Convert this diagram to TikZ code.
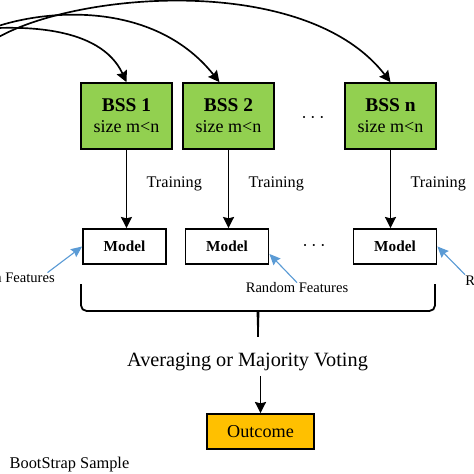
\documentclass[tikz,border=0pt]{standalone}
\usepackage{fontspec}
\setmainfont{Liberation Serif}
\usetikzlibrary{arrows.meta}
\definecolor{bssgreen}{RGB}{146,208,80}
\definecolor{outgold}{RGB}{255,192,0}
\definecolor{featblue}{RGB}{91,155,213}
\tikzstyle{arrow} = [-{Stealth[length=8pt,width=8pt,inset=1pt]},line width=1.2pt]
\tikzstyle{featarrow} = [-{Stealth[length=8pt,width=7pt,inset=1pt]},line width=0.8pt,draw=featblue,fill=featblue]
\tikzstyle{bss} = [draw,line width=1.3pt,fill=bssgreen,minimum width=2.3cm,minimum height=1.67cm,align=center,inner sep=0pt,font=\fontsize{13}{15}\selectfont]
\tikzstyle{model} = [draw,line width=1.3pt,fill=white,minimum width=2.1cm,minimum height=0.886cm,font=\fontsize{11}{13}\selectfont\bfseries]
\tikzstyle{feat} = [inner sep=0pt,font=\fontsize{10.5}{12}\selectfont]
\tikzstyle{train} = [font=\fontsize{11.7}{14}\selectfont]
\tikzstyle{brace} = [line width=1.3pt,rounded corners=4pt]
\tikzstyle{dots} = [font=\fontsize{15}{17}\selectfont]

\begin{document}
\begin{tikzpicture}
          \useasboundingbox (0,0) rectangle (12,12);
          \clip (0,0) rectangle (12,12);
          % bootstrap samples
          \node[bss] at (3.202,9.063) (bss1) {{\fontsize{14}{15}\selectfont\bfseries BSS 1}\\size m<n};
          \node[bss] at (5.785,9.063) (bss2) {{\fontsize{14}{15}\selectfont\bfseries BSS 2}\\size m<n};
          \node[bss] at (9.886,9.063) (bssn) {{\fontsize{14}{15}\selectfont\bfseries BSS n}\\size m<n};
          \node[dots] at (7.924,9.013) (dots1) {$\cdots$};

          % models
          \node[model] at (3.152,5.760) (model1) {Model};
          \node[model] at (5.747,5.760) (model2) {Model};
          \node[model] at (10.0,5.760) (model3) {Model};
          \node[dots] at (7.949,5.772) (dots2) {$\cdots$};

          \node[feat, anchor=east] at (1.392,4.962) (feat1) {Random Features};
          \node[feat] at (7.519,4.709) (feat2) {Random Features};
          \node[feat, anchor=west] at (11.772,4.911) (feat3) {Random Features};

          \node[font=\fontsize{14.6}{17}\selectfont] at (6.266,2.836) (avg) {Averaging or Majority Voting};
          \node[draw, line width=1.3pt, fill=outgold, minimum width=2.71cm, minimum height=0.886cm, font=\fontsize{13.1}{15}\selectfont] at (6.595,1.076) (outcome) {Outcome};
          \node[font=\fontsize{11.8}{14}\selectfont, anchor=west] at (0.12,0.228) (bootstrap) {BootStrap Sample};

          % curves from the data set
          \coordinate (srcA) at (-0.506,11.266);
          \coordinate (srcB) at (-0.506,11.165);
          \coordinate (srcC) at (-0.506,10.734);
          \draw[arrow] (srcA) .. controls (0.506,11.342) and (2.532,11.367) .. (bss1.north);
          \draw[arrow] (srcB) .. controls (0.759,11.747) and (3.797,12.127) .. (bss2.105);
          \draw[arrow] (srcC) .. controls (1.013,12.127) and (7.595,12.886) .. (bssn.north);

          \draw[arrow] (bss1.south) -- (bss1.south |- model1.north) node[pos=0.43, train, right=0.37cm]{Training};
          \draw[arrow] (bss2.south) -- (bss2.south |- model2.north) node[pos=0.43, train, right=0.37cm]{Training};
          \draw[arrow] (bssn.south) -- (bssn.south |- model3.north) node[pos=0.43, train, right=0.37cm]{Training};

          \draw[featarrow] (feat1.7) -- (model1.west);
          \draw[featarrow] (feat2.north) -- (model2.-10);
          \draw[featarrow] (feat3.north west) -- (model3.east);

          % brace
          \coordinate (bl) at (2.051,4.810);
          \coordinate (br) at (11.013,4.810);
          \coordinate (tip) at (6.532,3.469);
          \draw[brace] (bl) |- (6.40,4.127) .. controls (6.50,4.127) and (6.532,4.08) .. (tip);
          \draw[brace] (br) |- (6.664,4.127) .. controls (6.564,4.127) and (6.532,4.08) .. (tip);

          \draw[arrow] (outcome.north |- avg.south) -- (outcome.north);
        \end{tikzpicture}
\end{document}
